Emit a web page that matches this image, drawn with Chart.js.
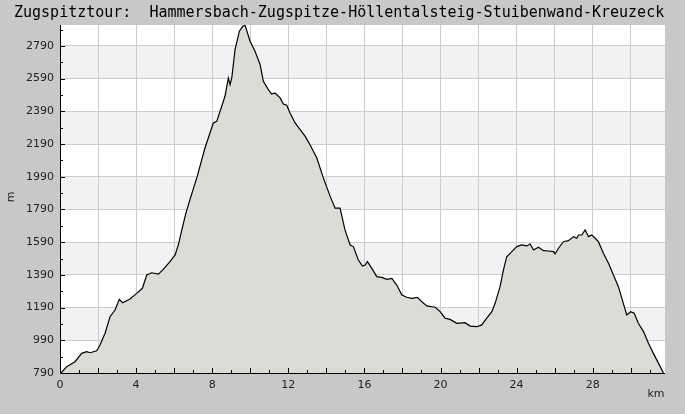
<!DOCTYPE html>
<html>
<head>
<meta charset="utf-8">
<script src="https://cdn.jsdelivr.net/npm/chart.js@4/dist/chart.umd.min.js"></script>
<style>
  html, body { margin: 0; padding: 0; background: #c8c8c8; }
  #wrap { width: 685px; height: 414px; position: relative; }
</style>
</head>
<body>
<div id="wrap"><canvas id="profil" width="685" height="414"></canvas></div>
<script>
var titel = 'Zugspitztour:  Hammersbach-Zugspitze-Höllentalsteig-Stuibenwand-Kreuzeck';

// Distanz in km
var km = [
  0, 0.09, 0.35, 0.79, 1.14, 1.40, 1.58, 1.93, 2.10, 2.37, 2.63, 2.89, 3.12, 3.29, 3.68,
  4.03, 4.33, 4.56, 4.82, 5.17, 5.43, 5.78, 6.05, 6.22, 6.36, 6.60, 6.83, 7.19, 7.62,
  8.06, 8.24, 8.50, 8.67, 8.85, 8.94, 9.03, 9.20, 9.43, 9.61, 9.73, 9.99, 10.25, 10.52,
  10.69, 10.95, 11.13, 11.30, 11.57, 11.74, 11.92, 12.09, 12.36, 12.62, 12.88, 13.14,
  13.50, 13.84, 14.20, 14.46, 14.72, 14.98, 15.25, 15.42, 15.68, 15.90, 16.04, 16.16,
  16.39, 16.65, 16.91, 17.18, 17.44, 17.70, 17.97, 18.23, 18.49, 18.79, 19.02, 19.28,
  19.72, 19.98, 20.24, 20.50, 20.86, 21.29, 21.56, 21.91, 22.17, 22.43, 22.70, 22.87,
  23.13, 23.31, 23.48, 23.75, 24.01, 24.27, 24.54, 24.71, 24.89, 25.15, 25.41, 25.67,
  25.94, 26.02, 26.20, 26.46, 26.72, 26.99, 27.16, 27.25, 27.43, 27.60, 27.78, 27.95,
  28.13, 28.30, 28.56, 28.83, 29.09, 29.35, 29.61, 29.79, 30.00, 30.18, 30.40, 30.67,
  30.93, 31.19, 31.46, 31.72
];

// Hoehe in m
var hoehe = [
  790, 795, 829, 859, 910, 920, 914, 926, 961, 1033, 1134, 1175, 1241, 1220, 1243,
  1277, 1308, 1389, 1403, 1395, 1424, 1471, 1512, 1573, 1644, 1760, 1850, 1983, 2166,
  2319, 2329, 2421, 2482, 2594, 2553, 2594, 2767, 2880, 2910, 2916, 2819, 2758, 2676,
  2574, 2523, 2496, 2502, 2472, 2435, 2427, 2380, 2319, 2278, 2238, 2186,
  2105, 1983, 1870, 1798, 1798, 1665, 1573, 1563, 1481, 1444, 1450, 1471,
  1430, 1379, 1375, 1363, 1369, 1328, 1267, 1253, 1247, 1253, 1226, 1200,
  1192, 1165, 1125, 1118, 1094, 1098, 1077, 1073, 1084, 1125, 1165, 1216,
  1318, 1420, 1501, 1532, 1563, 1573, 1567, 1579, 1542, 1559, 1538, 1536,
  1532, 1518, 1553, 1593, 1599, 1624, 1614, 1634, 1634, 1665, 1624, 1634,
  1614, 1593, 1522, 1461, 1389, 1318, 1216, 1145, 1165, 1155, 1094, 1043,
  972, 910, 849, 790
];

var yMin = 790, yMax = 2918, yStep = 200;
var xMin = 0, xMax = 31.8, xStep = 2;

var punkte = [];
km.forEach(function(k, i) {
  punkte.push({ x: k, y: hoehe[i] });
});

// Hintergrund, Streifen, Titel, kleine Striche
var deko = {
  id: 'deko',
  beforeDraw: function(chart) {
    var ctx = chart.ctx, a = chart.chartArea, ys = chart.scales.y;
    ctx.save();
    ctx.fillStyle = '#c8c8c8';
    ctx.fillRect(0, 0, chart.width, chart.height);
    ctx.fillStyle = '#ffffff';
    ctx.fillRect(a.left, a.top, a.right - a.left, a.bottom - a.top);
    ctx.fillStyle = '#f2f1f4';
    for (var v = yMin + yStep; v < yMax; v += 2 * yStep) {
      var t = ys.getPixelForValue(Math.min(v + yStep, yMax));
      var b = ys.getPixelForValue(v);
      ctx.fillRect(a.left, t, a.right - a.left, b - t);
    }
    ctx.fillStyle = '#000';
    ctx.font = '15px "DejaVu Sans Mono"';
    ctx.textBaseline = 'middle';
    ctx.textAlign = 'left';
    ctx.fillText(titel, 14, 13);
    ctx.restore();
  },
  afterDraw: function(chart) {
    var ctx = chart.ctx, a = chart.chartArea, xs = chart.scales.x, ys = chart.scales.y;
    ctx.save();
    ctx.strokeStyle = '#000';
    ctx.lineWidth = 1;
    ctx.beginPath();
    ctx.moveTo(a.left + 0.5, a.top);
    ctx.lineTo(a.left + 0.5, a.bottom + 0.5);
    ctx.lineTo(a.right, a.bottom + 0.5);
    for (var k = 1; k <= xMax; k++) {
      var px = Math.round(xs.getPixelForValue(k)) + 0.5;
      ctx.moveTo(px, a.bottom);
      ctx.lineTo(px, a.bottom - (k % 2 == 0 ? 5 : 3));
    }
    for (var v = yMin + 100; v <= yMax; v += 100) {
      var py = Math.round(ys.getPixelForValue(v)) + 0.5;
      ctx.moveTo(a.left, py);
      ctx.lineTo(a.left + ((v - yMin) % 200 == 0 ? 5 : 3), py);
    }
    ctx.stroke();

    ctx.fillStyle = '#222';
    ctx.font = '11px "DejaVu Sans"';
    ctx.textAlign = 'center';
    ctx.textBaseline = 'middle';
    ctx.fillText('km', 656, 394);
    ctx.translate(11, 197);
    ctx.rotate(-Math.PI / 2);
    ctx.fillText('m', 0, 0);
    ctx.restore();
  }
};

new Chart(document.getElementById('profil'), {
  type: 'line',
  data: {
    datasets: [{
      data: punkte,
      borderColor: '#000',
      borderWidth: 1.2,
      backgroundColor: '#dcdbd6',
      fill: 'origin',
      pointRadius: 0,
      tension: 0
    }]
  },
  options: {
    responsive: false,
    animation: false,
    layout: { padding: { top: 25, right: 20, left: 0, bottom: 0 } },
    plugins: { legend: { display: false }, tooltip: { enabled: false } },
    scales: {
      x: {
        type: 'linear',
        min: xMin,
        max: xMax,
        afterFit: function(s) { s.height = 41; },
        afterBuildTicks: function(s) {
          var t = [];
          for (var k = xMin; k <= xMax; k += xStep) t.push({ value: k });
          s.ticks = t;
        },
        grid: { color: '#cccccc', drawTicks: false },
        border: { display: false },
        ticks: {
          autoSkip: false,
          maxRotation: 0,
          padding: 6,
          color: '#222',
          font: { family: 'DejaVu Sans', size: 11 },
          callback: function(v) { return v % 4 == 0 ? String(v) : ''; }
        }
      },
      y: {
        min: yMin,
        max: yMax,
        afterFit: function(s) { s.width = 60; },
        afterBuildTicks: function(s) {
          var t = [];
          for (var v = yMin; v <= yMax; v += yStep) t.push({ value: v });
          s.ticks = t;
        },
        grid: { color: '#cccccc', drawTicks: false },
        border: { display: false },
        ticks: {
          padding: 6,
          color: '#222',
          font: { family: 'DejaVu Sans', size: 11 },
          callback: function(v) { return String(v); }
        }
      }
    }
  },
  plugins: [deko]
});
</script>
</body>
</html>
